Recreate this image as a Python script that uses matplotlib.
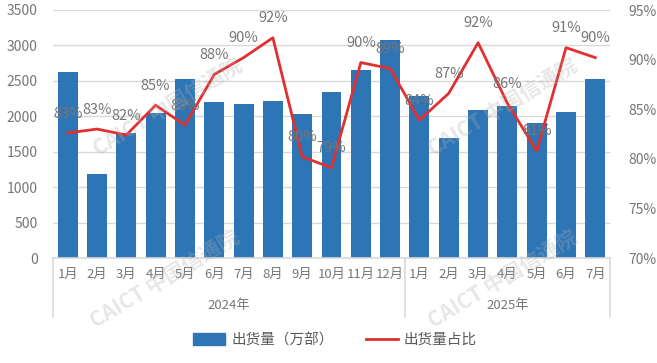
import matplotlib
matplotlib.use('Agg')
import matplotlib.pyplot as plt
from matplotlib.lines import Line2D
from matplotlib.patches import Patch
import numpy as np

plt.rcParams['font.family'] = ['Noto Sans CJK SC', 'DejaVu Sans']

# --- data ---
months = ['1月', '2月', '3月', '4月', '5月', '6月', '7月', '8月', '9月', '10月', '11月', '12月',
          '1月', '2月', '3月', '4月', '5月', '6月', '7月']
years = ['2024年', '2025年']
year_counts = [12, 7]
shipments = [2625, 1185, 1760, 2050, 2525, 2200, 2180, 2215, 2035, 2345, 2655, 3075,
             2285, 1700, 2085, 2145, 1910, 2055, 2530]
share = [82.6, 83.0, 82.4, 85.4, 83.4, 88.5, 90.2, 92.2, 80.2, 79.1, 89.7, 89.1,
         83.9, 86.6, 91.7, 85.6, 80.8, 91.2, 90.2]
share_labels = ['83%', '83%', '82%', '85%', '83%', '88%', '90%', '92%', '80%', '79%', '90%', '89%',
                '84%', '87%', '92%', '86%', '81%', '91%', '90%']

bar_color = '#2E75B6'
line_color = '#E03030'
text_gray = '#767676'
grid_gray = '#D9D9D9'

W, H = 657, 363
fig = plt.figure(figsize=(W / 100, H / 100), dpi=100)
left, right, top, bottom = 53, 610, 10, 258
ax = fig.add_axes([left / W, 1 - bottom / H, (right - left) / W, (bottom - top) / H])

x = np.arange(len(months))
ax.bar(x, shipments, width=0.68, color=bar_color, zorder=2)
ax.set_xlim(-0.5, len(months) - 0.5)
ax.set_ylim(0, 3500)
ax.set_yticks(np.arange(0, 3501, 500))
ax.grid(axis='y', color=grid_gray, linewidth=1, zorder=0)
ax.set_axisbelow(True)
for s in ['left', 'right', 'top']:
    ax.spines[s].set_visible(False)
ax.spines['bottom'].set_color(grid_gray)
ax.spines['bottom'].set_linewidth(1.2)
ax.tick_params(axis='y', length=0, pad=11, labelsize=10, labelcolor=text_gray)
ax.set_xticks(x)
ax.set_xticklabels(months)
ax.tick_params(axis='x', length=0, pad=7, labelsize=9.5, labelcolor=text_gray)

# multi-level category axis
depth = (317 - 258) / (bottom - top)
n = len(months)
pos = 0
bounds = [0]
for yl, c in zip(years, year_counts):
    ax.text((pos + c / 2) / n, -(306 - 258) / (bottom - top), yl, transform=ax.transAxes,
            ha='center', va='center', fontsize=9.5, color=text_gray)
    pos += c
    bounds.append(pos)
for b in bounds:
    ax.add_line(Line2D([b / n, b / n], [0, -depth], transform=ax.transAxes,
                       color=grid_gray, linewidth=1.2, clip_on=False))

ax2 = ax.twinx()
ax2.plot(x, share, color=line_color, linewidth=2, zorder=3)
ax2.set_ylim(70, 95)
ax2.set_yticks(np.arange(70, 96, 5))
ax2.set_yticklabels([f'{v}%' for v in range(70, 96, 5)])
for s in ax2.spines.values():
    s.set_visible(False)
ax2.tick_params(axis='y', length=0, pad=13, labelsize=10, labelcolor=text_gray)
for xi, v, lab in zip(x, share, share_labels):
    ax2.annotate(lab, (xi, v), xytext=(0, 14), textcoords='offset points',
                 ha='center', va='center', fontsize=10.5, color=text_gray, zorder=4)

# legend
handles = [Patch(color=bar_color), Line2D([0], [0], color=line_color, linewidth=2)]
fig.legend(handles, ['出货量（万部）', '出货量占比'], loc='center', ncol=2,
           bbox_to_anchor=(0.51, 1 - 340 / H), frameon=False, fontsize=10.5,
           handlelength=2.2, handleheight=0.9, columnspacing=2.2, handletextpad=0.4,
           labelcolor='#595959')

# watermarks
for cx, cy in [(168, 108), (165, 280), (503, 108), (503, 280)]:
    fig.text(cx / W, 1 - cy / H, 'CAICT 中国信通院', rotation=31, ha='center', va='center',
             fontsize=15, fontweight='bold', color='#b0b0b0', alpha=0.3, zorder=10)

fig.savefig('out.png', dpi=100)
